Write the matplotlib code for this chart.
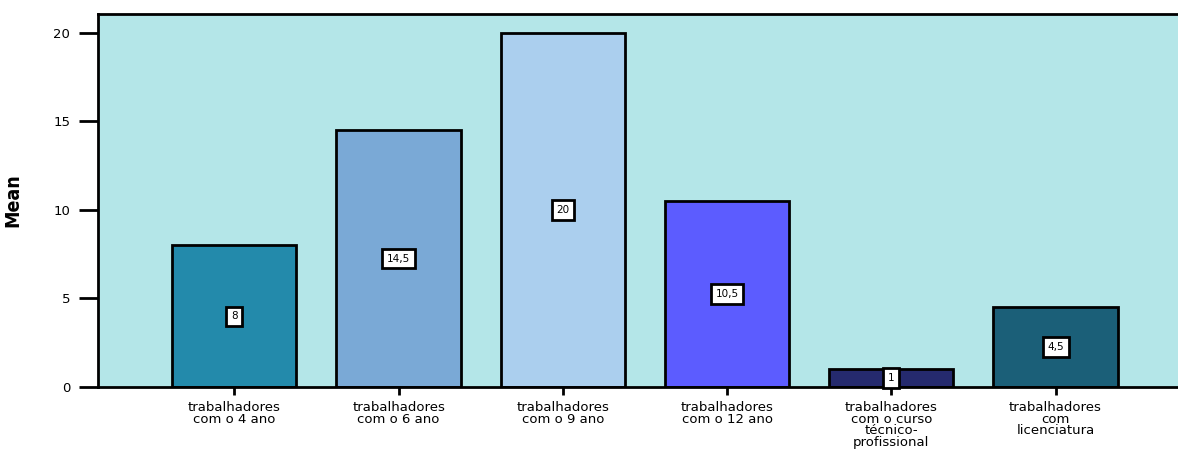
import matplotlib
matplotlib.use("Agg")
import matplotlib.pyplot as plt

categories = [
    "trabalhadores\ncom o 4 ano",
    "trabalhadores\ncom o 6 ano",
    "trabalhadores\ncom o 9 ano",
    "trabalhadores\ncom o 12 ano",
    "trabalhadores\ncom o curso\ntécnico-\nprofissional",
    "trabalhadores\ncom\nlicenciatura",
]
means = [8, 14.5, 20, 10.5, 1, 4.5]
value_labels = ["8", "14,5", "20", "10,5", "1", "4,5"]
bar_colors = ["#238aab", "#7aa9d6", "#abcfee", "#5c5cff", "#252a6e", "#1b5f78"]
yticks = [0, 5, 10, 15, 20]

fig = plt.figure(figsize=(11.78, 4.5), dpi=100)
ax = fig.add_axes([98 / 1178, 63 / 450, 1 - 98 / 1178 + 0.002, 373 / 450])
ax.set_facecolor("#b4e6e8")

x = list(range(len(categories)))
ax.bar(x, means, width=0.756, color=bar_colors, edgecolor="black", linewidth=2, zorder=2)

for xi, v, lab in zip(x, means, value_labels):
    ax.text(xi, v / 2, lab, ha="center", va="center", fontsize=7.5, family="DejaVu Sans",
            zorder=3,
            bbox=dict(boxstyle="square,pad=0.45", facecolor="white", edgecolor="black", linewidth=2))

ax.set_xlim(-0.83, 5.76)
ax.set_ylim(0, 21.07)
ax.set_yticks(yticks)
ax.set_yticklabels([str(t) for t in yticks], fontsize=9.5, family="DejaVu Sans")
ax.set_xticks(x)
ax.set_xticklabels(categories, fontsize=9.5, family="DejaVu Sans", linespacing=0.87)
ax.tick_params(axis="y", length=14, width=2, pad=6)
ax.tick_params(axis="x", length=6, width=2, pad=4)

for side in ["left", "bottom", "top"]:
    ax.spines[side].set_linewidth(2)
ax.spines["right"].set_visible(False)

ax.set_ylabel("Mean", fontsize=14, fontweight="bold", family="DejaVu Sans",
              fontstretch="condensed", labelpad=22)

fig.savefig("out.png", dpi=100)
